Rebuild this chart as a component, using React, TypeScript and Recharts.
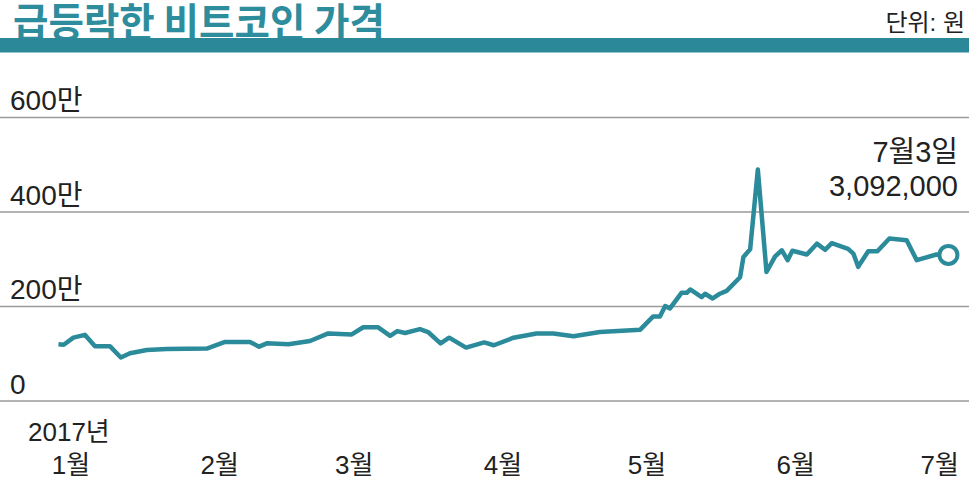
import React from "react";
import { LineChart, Line, XAxis, YAxis, CartesianGrid } from "recharts";

// day offset from 2017-01-01 (negative = late Dec 2016)
const days = [
  -2.4, -1.3, 0.7, 3.1, 5.2, 8.3, 10.6, 12.5, 16, 20.1, 28.5, 32.3, 37.5, 39.4, 41, 45.5, 50, 53.8,
  58.7, 61.1, 64.2, 66.7, 68.2, 69.8, 72.9, 74.6, 77.2, 79, 82.5, 86.3, 88.3, 92.4, 97.2, 100.7,
  104.9, 110.4, 118.8, 121.5, 122.9, 124, 125, 127.4, 128.5, 129.2, 131.6, 132.3, 133.9, 135.4,
  136.8, 139.6, 140.3, 141.7, 143.3, 145.1, 146.9, 148.3, 149.5, 150.5, 153.5, 155.6, 157.3,
  158.7, 162.1, 163.2, 164.2, 166.3, 168.2, 170.7, 174.3, 176.4, 180.5, 183,
];
// price in 만원
const prices = [
  120, 119, 134, 140, 116, 116, 92, 101, 108, 110, 111, 125, 125, 115, 122, 120, 127, 143,
  141, 156, 156, 138, 148, 144, 152, 146, 122, 134, 113, 124, 118, 134, 143, 143,
  137, 146, 151, 179, 179, 201, 196, 229, 229, 236, 220, 227, 217, 227,
  233, 262, 305, 321, 490, 273, 306, 319, 298, 318, 310, 333, 320,
  334, 322, 312, 284, 317, 317, 344, 340, 298, 310, 309.2,
];
const monthTicks = [0, 31, 59, 90, 120, 151, 181];
const monthLabels = ["1월", "2월", "3월", "4월", "5월", "6월", "7월"];
const yTicks = [0, 200, 400, 600];
const yearLabel = "2017년";
const lastDateLabel = "7월3일";
const lastPriceLabel = "3,092,000";
const title = "급등락한 비트코인 가격";
const unitLabel = "단위: 원";

const data = days.map((d, i) => ({ day: d, price: prices[i] }));

const TEAL = "#2b8b9b";
const FONT = "'Liberation Sans', Arial, 'Noto Sans CJK KR', sans-serif";
// the chart svg is shifted left by this amount so the plot area starts at the page edge
const OFF = 40;

const XTick = (props: any) => {
  const { x, payload, index } = props;
  const label = monthLabels[monthTicks.indexOf(payload.value)];
  return (
    <g>
      {index === 0 && (
        <text x={OFF + 28} y={441} fontSize={26} fill="#222" fontFamily={FONT} textAnchor="start">
          {yearLabel}
        </text>
      )}
      <text x={x + 1} y={474} fontSize={26} fill="#222" fontFamily={FONT} textAnchor="middle">
        {label}
      </text>
    </g>
  );
};

const YTick = (props: any) => {
  const { y, payload } = props;
  const v = payload.value;
  return (
    <text x={OFF + 10} y={y - 7.5} fontSize={28} fill="#222" fontFamily={FONT} textAnchor="start">
      {v === 0 ? "0" : `${v}만`}
    </text>
  );
};

const EndDot = (props: any) => {
  const { cx, cy, index } = props;
  if (index !== data.length - 1) return <g key={index} />;
  return (
    <g key={index}>
      <circle cx={cx} cy={cy} r={9} fill="#fff" stroke={TEAL} strokeWidth={4} />
      <text x={OFF + 958} y={162} fontSize={29} fill="#222" fontFamily={FONT} textAnchor="end">
        {lastDateLabel}
      </text>
      <text x={OFF + 958} y={196} fontSize={29} fill="#222" fontFamily={FONT} textAnchor="end">
        {lastPriceLabel}
      </text>
    </g>
  );
};

export default function App() {
  return (
    <div style={{ position: "absolute", left: 0, top: 0, width: 969, height: 479, background: "#fff", overflow: "hidden" }}>
      <svg width={969} height={60} style={{ position: "absolute", left: 0, top: 0 }}>
        <text
          x={13}
          y={37}
          fontSize={40}
          fontWeight={700}
          fill="#2e8d9d"
          fontFamily="'Noto Sans CJK KR', sans-serif"
          textLength={372}
          lengthAdjust="spacingAndGlyphs"
        >
          {title}
        </text>
        <rect x={0} y={38} width={969} height={14.5} fill="#2a8898" />
        <text x={965} y={31} fontSize={24} fill="#222" fontFamily={FONT} textAnchor="end">
          {unitLabel}
        </text>
      </svg>
      <div style={{ position: "absolute", left: -OFF, top: 0 }}>
        <LineChart
          width={969 + OFF}
          height={479}
          data={data}
          margin={{ top: 117.5, right: 0, bottom: 0, left: 0 }}
        >
          <CartesianGrid horizontal={true} vertical={false} stroke="#9a9a9a" strokeWidth={1.5} />
          <XAxis
            dataKey="day"
            type="number"
            domain={[-14.58, 187.29]}
            ticks={monthTicks}
            allowDataOverflow
            height={78}
            axisLine={false}
            tickLine={false}
            tick={(p: any) => <XTick {...p} />}
            interval={0}
          />
          <YAxis
            type="number"
            domain={[0, 600]}
            ticks={yTicks}
            width={OFF}
            axisLine={false}
            tickLine={false}
            tick={(p: any) => <YTick {...p} />}
            interval={0}
          />
          <Line
            type="linear"
            dataKey="price"
            stroke={TEAL}
            strokeWidth={4.5}
            strokeLinejoin="round"
            dot={(p: any) => <EndDot {...p} key={p.index} />}
            activeDot={false}
            isAnimationActive={false}
          />
        </LineChart>
      </div>
    </div>
  );
}
